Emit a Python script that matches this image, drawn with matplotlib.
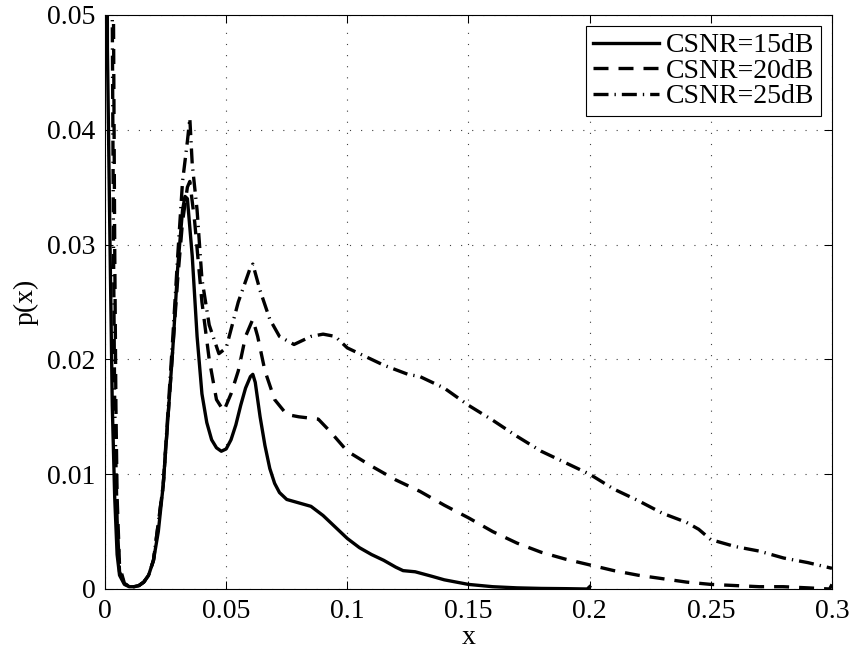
import matplotlib
matplotlib.use('Agg')
import matplotlib.pyplot as plt

plt.rcParams['font.family'] = ['Liberation Serif', 'DejaVu Serif']

# CSNR = 15 dB (solid)
x15 = [0.0005, 0.001, 0.002, 0.003, 0.004, 0.005, 0.006, 0.008, 0.010, 0.012, 0.014,
       0.016, 0.018, 0.020, 0.022, 0.024, 0.026, 0.028, 0.030, 0.032, 0.033, 0.034,
       0.036, 0.038, 0.040, 0.042, 0.044, 0.046, 0.048, 0.050, 0.052, 0.054, 0.056,
       0.058, 0.060, 0.061, 0.062, 0.064, 0.066, 0.068, 0.070, 0.072, 0.075, 0.080,
       0.085, 0.090, 0.095, 0.100, 0.105, 0.110, 0.115, 0.120, 0.123, 0.128, 0.135,
       0.140, 0.150, 0.160, 0.170, 0.180, 0.190, 0.199, 0.200]
y15 = [0.10, 0.047, 0.031, 0.016, 0.008, 0.003, 0.0012, 0.0004, 0.0002, 0.0002, 0.0003,
       0.0006, 0.0012, 0.0025, 0.005, 0.009, 0.015, 0.021, 0.028, 0.033, 0.0342, 0.034,
       0.029, 0.022, 0.017, 0.0145, 0.013, 0.0123, 0.012, 0.0122, 0.013, 0.0143, 0.016,
       0.0175, 0.0185, 0.0187, 0.018, 0.015, 0.0125, 0.0105, 0.0092, 0.0084, 0.0078, 0.0075,
       0.0072, 0.0064, 0.0054, 0.0044, 0.0036, 0.0030, 0.0025, 0.0019, 0.0016, 0.0015, 0.0011,
       0.0008, 0.0004, 0.0002, 0.0001, 0.00005, 0.00003, 0.0, 0.0002]

# CSNR = 20 dB (dashed)
x20 = [0.003, 0.0035, 0.004, 0.0045, 0.005, 0.006, 0.008, 0.010, 0.012, 0.014, 0.016,
       0.018, 0.020, 0.024, 0.028, 0.030, 0.032, 0.034, 0.035, 0.037, 0.040, 0.043,
       0.046, 0.049, 0.052, 0.055, 0.058, 0.061, 0.063, 0.066, 0.070, 0.075, 0.080,
       0.088, 0.093, 0.100, 0.110, 0.120, 0.130, 0.140, 0.150, 0.160, 0.170, 0.180,
       0.190, 0.200, 0.210, 0.220, 0.230, 0.240, 0.250, 0.260, 0.270, 0.280, 0.290,
       0.299, 0.300]
y20 = [0.10, 0.050, 0.030, 0.016, 0.008, 0.002, 0.0005, 0.0002, 0.0002, 0.0003, 0.0006,
       0.0012, 0.0025, 0.009, 0.021, 0.027, 0.032, 0.035, 0.0355, 0.032, 0.025, 0.020,
       0.0165, 0.0155, 0.017, 0.019, 0.022, 0.0235, 0.022, 0.019, 0.0165, 0.0152, 0.0150,
       0.0148, 0.0137, 0.0120, 0.0107, 0.0095, 0.0085, 0.0073, 0.0062, 0.0050, 0.0040, 0.0032,
       0.0026, 0.0021, 0.0016, 0.0012, 0.0009, 0.0006, 0.0004, 0.0003, 0.0002, 0.0002, 0.0001,
       0.0, 0.0004]

# CSNR = 25 dB (dash-dot)
x25 = [0.0025, 0.003, 0.0035, 0.004, 0.005, 0.006, 0.008, 0.010, 0.012, 0.014, 0.016,
       0.018, 0.020, 0.024, 0.028, 0.030, 0.032, 0.034, 0.035, 0.036, 0.038, 0.040,
       0.043, 0.047, 0.050, 0.055, 0.060, 0.061, 0.064, 0.068, 0.072, 0.078, 0.085,
       0.090, 0.095, 0.100, 0.115, 0.125, 0.130, 0.140, 0.150, 0.160, 0.170, 0.180,
       0.190, 0.200, 0.210, 0.220, 0.230, 0.240, 0.245, 0.250, 0.260, 0.270, 0.280,
       0.290, 0.300]
y25 = [0.10, 0.050, 0.030, 0.016, 0.006, 0.0015, 0.0005, 0.0002, 0.0002, 0.0003, 0.0006,
       0.0012, 0.0025, 0.009, 0.022, 0.029, 0.0355, 0.039, 0.041, 0.037, 0.033, 0.027,
       0.023, 0.0205, 0.021, 0.025, 0.028, 0.0283, 0.026, 0.0235, 0.022, 0.0213, 0.022,
       0.0222, 0.022, 0.021, 0.0195, 0.0187, 0.0185, 0.0175, 0.0160, 0.0147, 0.0133, 0.0120,
       0.0110, 0.0100, 0.0087, 0.0077, 0.0066, 0.0058, 0.0052, 0.0043, 0.0037, 0.0033, 0.0027,
       0.0023, 0.0018]

labels = ['CSNR=15dB', 'CSNR=20dB', 'CSNR=25dB']
xticks = [0, 0.05, 0.1, 0.15, 0.2, 0.25, 0.3]
xticklabels = ['0', '0.05', '0.1', '0.15', '0.2', '0.25', '0.3']
yticks = [0, 0.01, 0.02, 0.03, 0.04, 0.05]
yticklabels = ['0', '0.01', '0.02', '0.03', '0.04', '0.05']

fig = plt.figure(figsize=(8.54, 6.59), dpi=100)
# axes box in pixels: left 105, right 832, top 15, bottom 589
ax = fig.add_axes([105 / 854, 1 - 589 / 659, 727 / 854, 574 / 659])

lw = 2.4
ax.plot(x15, y15, color='black', lw=lw, ls='-', label=labels[0])
ax.plot(x20, y20, color='black', lw=lw, ls=(0, (4.5, 3)), label=labels[1])
ax.plot(x25, y25, color='black', lw=lw, ls=(0, (4.5, 1.8, 0.4, 1.8)), label=labels[2])

ax.set_xlim(0, 0.3)
ax.set_ylim(0, 0.05)
ax.set_xticks(xticks)
ax.set_xticklabels(xticklabels)
ax.set_yticks(yticks)
ax.set_yticklabels(yticklabels)
ax.tick_params(direction='in', top=True, right=True, length=6, width=0.75,
               labelsize=20, pad=7)
ax.grid(True, ls=(0, (1, 9)), color='#404040', lw=0.8)
for s in ax.spines.values():
    s.set_linewidth(0.8)

ax.set_xlabel('x', fontsize=20, labelpad=1)
ax.set_ylabel('p(x)', fontsize=20, labelpad=6)

leg = ax.legend(loc='upper right', fontsize=20, frameon=True, fancybox=False,
                edgecolor='black', framealpha=1, handlelength=2.35,
                borderpad=0.25, labelspacing=0.0, handletextpad=0.25,
                borderaxespad=0.4)
leg.get_frame().set_linewidth(0.8)

fig.savefig('out.png', dpi=100)
